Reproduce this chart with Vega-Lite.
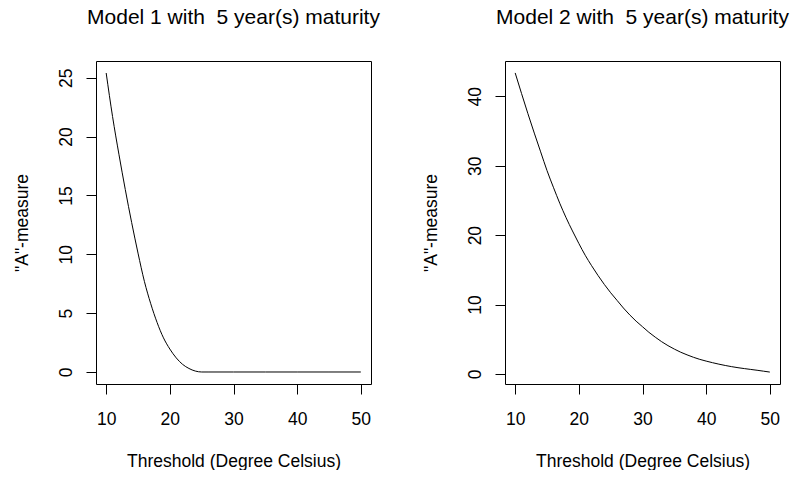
{
  "$schema": "https://vega.github.io/schema/vega-lite/v6.json",
  "autosize": {"type": "pad"},
  "padding": {"left": 12, "top": 6, "right": 0, "bottom": 0},
  "bounds": "flush",
  "spacing": 134,
  "background": "white",
  "config": {
    "view": {"stroke": "black", "strokeWidth": 1},
    "font": "Liberation Sans",
    "axis": {
      "domain": false,
      "grid": false,
      "ticks": true,
      "tickSize": 10,
      "tickColor": "black",
      "tickWidth": 1,
      "labelFont": "Liberation Sans",
      "labelFontSize": 17.5,
      "labelColor": "black",
      "titleFont": "Liberation Sans",
      "titleFontSize": 17.5,
      "titleFontWeight": "normal",
      "titleColor": "black",
      "labelFlush": false,
      "labelOverlap": false
    },
    "axisX": {
      "labelAngle": 0,
      "labelAlign": "center",
      "labelBaseline": "alphabetic",
      "labelPadding": 30,
      "titleBaseline": "alphabetic",
      "titleAnchor": "middle",
      "titleY": 82
    },
    "axisY": {
      "labelAngle": 270,
      "labelAlign": "center",
      "labelBaseline": "alphabetic",
      "labelPadding": 15,
      "titleAngle": 270,
      "titleBaseline": "alphabetic",
      "titleAlign": "center",
      "titleX": -69,
      "titleY": 161.5
    },
    "title": {
      "font": "Liberation Sans",
      "fontSize": 21,
      "fontWeight": "normal",
      "color": "black",
      "anchor": "middle",
      "frame": "group",
      "baseline": "alphabetic",
      "offset": 33
    }
  },
  "datasets": {
    "m1": [
      {"t": 10, "a": 25.4}, {"t": 11, "a": 21.7}, {"t": 12, "a": 18.5}, {"t": 13, "a": 15.5},
      {"t": 14, "a": 12.7}, {"t": 15, "a": 10.1}, {"t": 16, "a": 7.7}, {"t": 17, "a": 5.8},
      {"t": 18, "a": 4.2}, {"t": 19, "a": 2.9}, {"t": 20, "a": 1.95}, {"t": 21, "a": 1.2},
      {"t": 22, "a": 0.65}, {"t": 23, "a": 0.3}, {"t": 24, "a": 0.08}, {"t": 25, "a": 0},
      {"t": 26, "a": 0}, {"t": 30, "a": 0}, {"t": 35, "a": 0}, {"t": 40, "a": 0},
      {"t": 45, "a": 0}, {"t": 50, "a": 0}
    ],
    "m2": [
      {"t": 10, "a": 43.37}, {"t": 11, "a": 40.4}, {"t": 12, "a": 37.5}, {"t": 13, "a": 34.7},
      {"t": 14, "a": 32.0}, {"t": 15, "a": 29.3}, {"t": 16, "a": 26.9}, {"t": 17, "a": 24.6},
      {"t": 18, "a": 22.5}, {"t": 19, "a": 20.6}, {"t": 20, "a": 18.8}, {"t": 21, "a": 17.1},
      {"t": 22, "a": 15.6}, {"t": 23, "a": 14.2}, {"t": 24, "a": 12.9}, {"t": 25, "a": 11.7},
      {"t": 26, "a": 10.6}, {"t": 27, "a": 9.5}, {"t": 28, "a": 8.5}, {"t": 29, "a": 7.6},
      {"t": 30, "a": 6.8}, {"t": 31, "a": 6.0}, {"t": 32, "a": 5.3}, {"t": 33, "a": 4.65},
      {"t": 34, "a": 4.08}, {"t": 35, "a": 3.58}, {"t": 36, "a": 3.13}, {"t": 37, "a": 2.75},
      {"t": 38, "a": 2.4}, {"t": 39, "a": 2.1}, {"t": 40, "a": 1.85}, {"t": 41, "a": 1.62},
      {"t": 42, "a": 1.41}, {"t": 43, "a": 1.22}, {"t": 44, "a": 1.05}, {"t": 45, "a": 0.9},
      {"t": 46, "a": 0.77}, {"t": 47, "a": 0.65}, {"t": 48, "a": 0.53}, {"t": 49, "a": 0.4},
      {"t": 50, "a": 0.27}
    ]
  },
  "hconcat": [
    {
      "width": 275,
      "height": 323,
      "title": "Model 1 with\u00a0 5 year(s) maturity",
      "data": {"name": "m1"},
      "mark": {"type": "line", "color": "black", "strokeWidth": 1, "interpolate": "monotone"},
      "encoding": {
        "x": {
          "field": "t", "type": "quantitative",
          "scale": {"domain": [8.4, 51.6], "nice": false, "zero": false},
          "axis": {"values": [10, 20, 30, 40, 50], "title": "Threshold (Degree Celsius)"}
        },
        "y": {
          "field": "a", "type": "quantitative",
          "scale": {"domain": [-1.02, 26.42], "nice": false, "zero": false},
          "axis": {"values": [0, 5, 10, 15, 20, 25], "title": "\"A\"-measure"}
        }
      }
    },
    {
      "width": 275,
      "height": 323,
      "title": "Model 2 with\u00a0 5 year(s) maturity",
      "data": {"name": "m2"},
      "mark": {"type": "line", "color": "black", "strokeWidth": 1, "interpolate": "monotone"},
      "encoding": {
        "x": {
          "field": "t", "type": "quantitative",
          "scale": {"domain": [8.4, 51.6], "nice": false, "zero": false},
          "axis": {"values": [10, 20, 30, 40, 50], "title": "Threshold (Degree Celsius)"}
        },
        "y": {
          "field": "a", "type": "quantitative",
          "scale": {"domain": [-1.45, 45.09], "nice": false, "zero": false},
          "axis": {"values": [0, 10, 20, 30, 40], "title": "\"A\"-measure"}
        }
      }
    }
  ]
}
